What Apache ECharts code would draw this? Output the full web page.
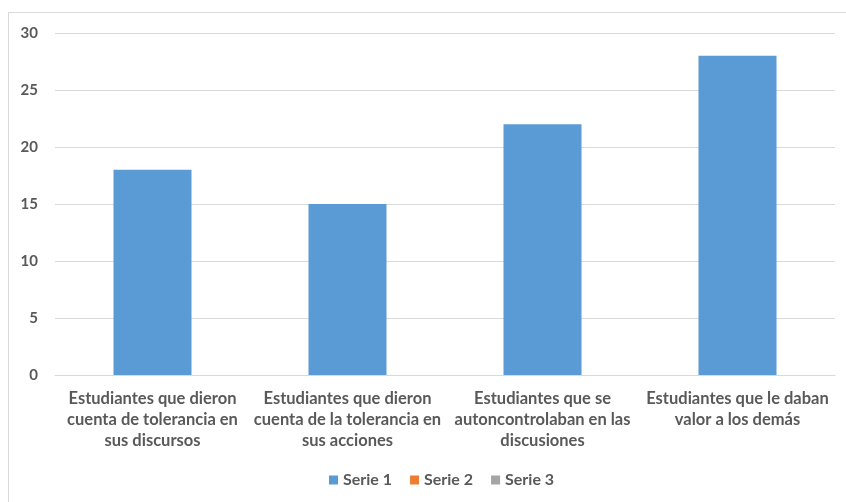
<!DOCTYPE html>
<html>
<head>
<meta charset="utf-8">
<script src="https://cdn.jsdelivr.net/npm/echarts@6/dist/echarts.min.js"></script>
<style>
html,body{margin:0;padding:0;background:#fff;}
#frame{position:absolute;left:8px;top:12px;width:850px;height:500px;border:1px solid #d9d9d9;box-sizing:border-box;}
#chart{position:absolute;left:0;top:0;width:846px;height:502px;}
</style>
</head>
<body>
<div id="frame"></div>
<div id="chart"></div>
<script>
const categories = [
  "Estudiantes que dieron\ncuenta de tolerancia en\nsus discursos",
  "Estudiantes que dieron\ncuenta de la tolerancia en\nsus acciones",
  "Estudiantes que se\nautoncontrolaban en las\ndiscusiones",
  "Estudiantes que le daban\nvalor a los demás"
];
const serie1 = [18, 15, 22, 28];
const serie2 = [null, null, null, null];
const serie3 = [null, null, null, null];
const seriesNames = ["Serie 1", "Serie 2", "Serie 3"];
const yTicks = { min: 0, max: 30, interval: 5 };

const chart = echarts.init(document.getElementById('chart'));
const font = 'Lato, "Open Sans", sans-serif';
chart.setOption({
  animation: false,
  color: ['#5b9bd5', '#ed7d31', '#a5a5a5'],
  grid: { left: 55, right: 11, top: 33, bottom: 127, containLabel: false },
  legend: {
    bottom: 9,
    left: 324,
    itemWidth: 9, itemHeight: 9, itemGap: 18,
    icon: 'rect',
    textStyle: { color: '#595959', fontSize: 16, fontWeight: 'bold', fontFamily: font },
    data: seriesNames
  },
  xAxis: {
    type: 'category',
    data: categories,
    axisLine: { lineStyle: { color: '#d9d9d9' } },
    axisTick: { show: false },
    axisLabel: { color: '#595959', fontSize: 16.5, fontWeight: 'bold', fontFamily: font, lineHeight: 21, margin: 13, interval: 0 }
  },
  yAxis: {
    type: 'value',
    min: yTicks.min, max: yTicks.max, interval: yTicks.interval,
    axisLine: { show: false },
    axisTick: { show: false },
    splitLine: { lineStyle: { color: '#d9d9d9' } },
    axisLabel: { color: '#595959', fontSize: 15, fontWeight: 'bold', fontFamily: font, margin: 17 }
  },
  series: [
    { name: seriesNames[0], type: 'bar', data: serie1, barWidth: '40%', barGap: '-100%' },
    { name: seriesNames[1], type: 'bar', data: serie2, barWidth: '40%', barGap: '-100%' },
    { name: seriesNames[2], type: 'bar', data: serie3, barWidth: '40%', barGap: '-100%' }
  ]
});
</script>
</body>
</html>
